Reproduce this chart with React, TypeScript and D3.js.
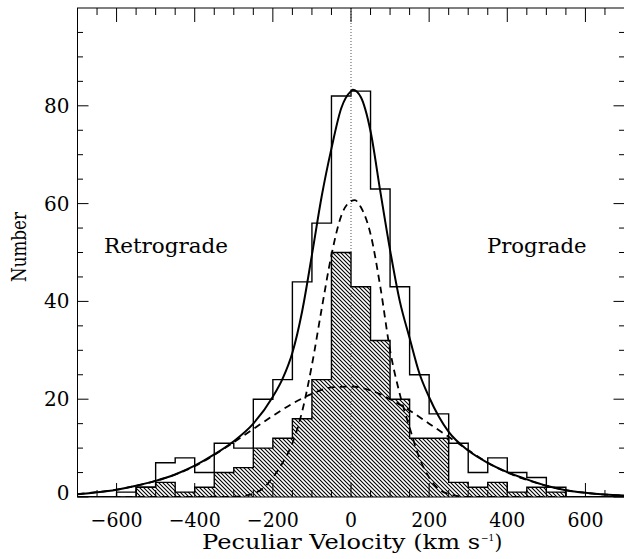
import React from "react";
import * as d3 from "d3";

// ---- data ----
const binStarts = [-700, -650, -600, -550, -500, -450, -400, -350, -300, -250, -200, -150, -100, -50, 0, 50, 100, 150, 200, 250, 300, 350, 400, 450, 500, 550, 600, 650];
const binWidth = 50;
const totalCounts = [0, 0, 1, 2, 7, 8, 5, 11, 10, 20, 24, 44, 56, 82, 83, 63, 43, 25, 17, 11, 5, 8, 5, 4, 2, 0, 0, 0];
const hatchedCounts = [0, 0, 0, 2, 3, 1, 2, 5, 6, 10, 12, 16, 24, 50, 43, 32, 20, 12, 12, 3, 2, 3, 1, 2, 1, 0, 0, 0];

const totalFitV = [-700, -650, -600, -550, -500, -450, -400, -350, -300, -250, -200, -175, -150, -125, -100, -75, -50, -25, 0, 5, 25, 50, 75, 100, 125, 150, 175, 200, 225, 250, 300, 350, 400, 450, 500, 550, 600, 650, 700];
const totalFitN = [0.55, 0.95, 1.5, 2.3, 3.3, 4.6, 6.4, 8.7, 11.4, 15.0, 20.5, 24.2, 29.5, 38.0, 49.5, 61.5, 71.3, 79.5, 83.0, 83.3, 81.8, 74.8, 62.5, 50.5, 40.0, 32.5, 25.3, 20.4, 16.4, 13.3, 9.5, 7.0, 5.1, 3.6, 2.3, 1.4, 0.85, 0.5, 0.3];

const narrowFitV = [-700, -300, -275, -250, -225, -200, -175, -150, -125, -100, -75, -50, -25, 0, 10, 25, 50, 75, 100, 125, 150, 175, 200, 225, 250, 275, 300, 700];
const narrowFitN = [0, 0, 0.2, 0.7, 1.8, 4.0, 7.0, 11.0, 17.5, 27.0, 38.5, 49.5, 57.5, 60.5, 60.7, 59.3, 53.8, 43.0, 30.0, 21.0, 14.2, 8.0, 4.0, 1.6, 0.6, 0.2, 0, 0];

const broadFitV = [-700, -650, -600, -550, -500, -450, -400, -350, -300, -250, -200, -150, -100, -50, 0, 50, 100, 150, 200, 250, 300, 350, 400, 450, 500, 550, 600, 650, 700];
const broadFitN = [0.6, 1.0, 1.5, 2.3, 3.3, 4.6, 6.3, 8.6, 11.2, 13.9, 16.6, 19.1, 21.1, 22.4, 22.6, 21.8, 20.0, 17.7, 15.0, 12.3, 9.6, 7.0, 5.0, 3.5, 2.3, 1.4, 0.85, 0.5, 0.3];

const xMajorTicks = [-600, -400, -200, 0, 200, 400, 600];
const yMajorTicks = [0, 20, 40, 60, 80];
const xTitle = "Peculiar Velocity (km s";
const xTitleExp = "\u22121";
const yTitle = "Number";
const leftNote = "Retrograde";
const rightNote = "Prograde";

// ---- layout ----
const W = 624;
const H = 559;
const L = 77.5;
const R = 624.5;
const T = 8;
const B = 497;
const FONT = "'DejaVu Serif', serif";

export default function App() {
  const x = d3.scaleLinear().domain([-700, 700]).range([L, R]);
  const y = d3.scaleLinear().domain([0, 100]).range([B, T]);

  const stepPts = (counts: number[]) => {
    const pts = binStarts.map((s, i) => [s, counts[i]] as [number, number]);
    pts.push([binStarts[binStarts.length - 1] + binWidth, 0]);
    return pts;
  };

  const stepLine = d3
    .line<[number, number]>()
    .x((d) => x(d[0]))
    .y((d) => y(d[1]))
    .curve(d3.curveStepAfter);
  const stepArea = d3
    .area<[number, number]>()
    .x((d) => x(d[0]))
    .y0(y(0))
    .y1((d) => y(d[1]))
    .curve(d3.curveStepAfter);

  const fitLine = d3
    .line<[number, number]>()
    .x((d) => x(d[0]))
    .y((d) => y(d[1]))
    .curve(d3.curveMonotoneX);

  const zip = (a: number[], b: number[]) => a.map((v, i) => [v, b[i]] as [number, number]);

  const xMinor = d3.range(-700, 701, 50).filter((v) => !xMajorTicks.includes(v));
  const yMinor = d3.range(0, 101, 5).filter((v) => !yMajorTicks.includes(v) && v !== 100);

  return (
    <svg
      width={W}
      height={H}
      style={{ position: "absolute", left: 0, top: 0, background: "#fff" }}
      fontFamily={FONT}
    >
      <defs>
        <pattern id="hatch" patternUnits="userSpaceOnUse" width={4} height={4}>
          <path d="M-1,-1 L5,5 M-1,3 L1,5 M3,-1 L5,1" stroke="#000" strokeWidth={1.1} />
        </pattern>
        <clipPath id="plotClip">
          <rect x={L} y={T} width={R - L} height={B - T} />
        </clipPath>
      </defs>
      <rect x={0} y={0} width={W} height={H} fill="#fff" />

      <g clipPath="url(#plotClip)">
        {/* hatched histogram */}
        <path d={stepArea(stepPts(hatchedCounts)) || ""} fill="url(#hatch)" stroke="none" />
        <path d={stepLine(stepPts(hatchedCounts)) || ""} fill="none" stroke="#000" strokeWidth={1.4} />
        {/* total histogram */}
        <path d={stepLine(stepPts(totalCounts)) || ""} fill="none" stroke="#000" strokeWidth={1.4} />

        {/* zero-velocity dotted line */}
        <line x1={x(0)} x2={x(0)} y1={T} y2={B} stroke="#555" strokeWidth={1} strokeDasharray="1,2" />

        {/* fits */}
        <path d={fitLine(zip(narrowFitV, narrowFitN)) || ""} fill="none" stroke="#000" strokeWidth={1.8} strokeDasharray="7,5" />
        <path d={fitLine(zip(broadFitV, broadFitN)) || ""} fill="none" stroke="#000" strokeWidth={1.8} strokeDasharray="7,5" />
        <path d={fitLine(zip(totalFitV, totalFitN)) || ""} fill="none" stroke="#000" strokeWidth={2} />
      </g>

      {/* frame */}
      <rect x={L} y={T} width={R - L} height={B - T} fill="none" stroke="#000" strokeWidth={1} />

      {/* x ticks bottom & top */}
      {xMajorTicks.map((v) => (
        <g key={"xM" + v}>
          <line x1={x(v)} x2={x(v)} y1={B} y2={B - 14} stroke="#000" strokeWidth={1} />
          <line x1={x(v)} x2={x(v)} y1={T} y2={T + 14} stroke="#000" strokeWidth={1} />
        </g>
      ))}
      {xMinor.map((v) => (
        <g key={"xm" + v}>
          <line x1={x(v)} x2={x(v)} y1={B} y2={B - 7} stroke="#000" strokeWidth={1} />
          <line x1={x(v)} x2={x(v)} y1={T} y2={T + 7} stroke="#000" strokeWidth={1} />
        </g>
      ))}
      {/* y ticks left & right */}
      {yMajorTicks.map((v) => (
        <g key={"yM" + v}>
          <line x1={L} x2={L + 11} y1={y(v)} y2={y(v)} stroke="#000" strokeWidth={1} />
          <line x1={R} x2={R - 11} y1={y(v)} y2={y(v)} stroke="#000" strokeWidth={1} />
        </g>
      ))}
      {yMinor.map((v) => (
        <g key={"ym" + v}>
          <line x1={L} x2={L + 5.5} y1={y(v)} y2={y(v)} stroke="#000" strokeWidth={1} />
          <line x1={R} x2={R - 5.5} y1={y(v)} y2={y(v)} stroke="#000" strokeWidth={1} />
        </g>
      ))}

      {/* tick labels */}
      {xMajorTicks.map((v) => {
        const label = v < 0 ? "\u2212" + Math.abs(v) : String(v);
        const len = v < 0 ? 52 : v === 0 ? 12 : 36;
        return (
          <text
            key={"xl" + v}
            x={x(v) - len / 2}
            y={527}
            fontSize={20}
            fill="#000"
            textLength={len}
            lengthAdjust="spacingAndGlyphs"
          >
            {label}
          </text>
        );
      })}
      {yMajorTicks.map((v) => (
        <text
          key={"yl" + v}
          x={69.5}
          y={v === 0 ? y(v) - 4 : y(v)}
          textAnchor="end"
          dominantBaseline="central"
          fontSize={20}
          fill="#000"
        >
          {String(v)}
        </text>
      ))}

      {/* titles */}
      <text x={202} y={549} fontSize={20} fill="#000" textLength={278} lengthAdjust="spacingAndGlyphs">
        {xTitle}
      </text>
      <text x={481} y={541} fontSize={9} fill="#000">
        {xTitleExp}
      </text>
      <text x={494.5} y={549} fontSize={20} fill="#000">
        )
      </text>
      <text
        transform="translate(26,247) rotate(-90)"
        textAnchor="middle"
        fontSize={20}
        fill="#000"
        textLength={70}
        lengthAdjust="spacingAndGlyphs"
      >
        {yTitle}
      </text>
      <text x={104} y={253} fontSize={20.5} fill="#000" textLength={124} lengthAdjust="spacingAndGlyphs">
        {leftNote}
      </text>
      <text x={487} y={253} fontSize={20.5} fill="#000" textLength={99.5} lengthAdjust="spacingAndGlyphs">
        {rightNote}
      </text>
    </svg>
  );
}
